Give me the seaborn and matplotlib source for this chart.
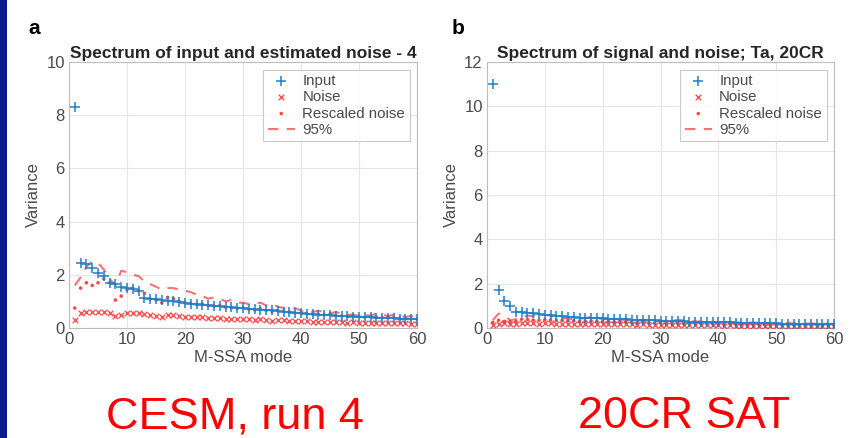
import numpy as np
import pandas as pd
import matplotlib
matplotlib.use("Agg")
import matplotlib.pyplot as plt
import seaborn as sns
from matplotlib.patches import Rectangle

modes = list(range(1, 61))

# Panel a: CESM, run 4
a_input = [8.3, 2.45, 2.4, 2.25, 2.05, 1.95, 1.7, 1.65, 1.55, 1.5,
           1.48, 1.38, 1.12, 1.1, 1.08, 1.05, 1.02, 1.0, 0.97, 0.94,
           0.92, 0.9, 0.88, 0.86, 0.84, 0.82, 0.8, 0.78, 0.76, 0.74,
           0.72, 0.7, 0.69, 0.68, 0.66, 0.64, 0.62, 0.6, 0.58, 0.55,
           0.53, 0.52, 0.5, 0.49, 0.48, 0.46, 0.45, 0.44, 0.43, 0.42,
           0.41, 0.4, 0.39, 0.38, 0.37, 0.36, 0.35, 0.34, 0.33, 0.32]
a_noise = [0.3, 0.55, 0.6, 0.6, 0.62, 0.6, 0.55, 0.45, 0.5, 0.55,
           0.55, 0.55, 0.52, 0.48, 0.45, 0.4, 0.48, 0.47, 0.45, 0.43,
           0.42, 0.4, 0.41, 0.38, 0.37, 0.38, 0.35, 0.34, 0.33, 0.34,
           0.32, 0.31, 0.33, 0.3, 0.28, 0.3, 0.29, 0.27, 0.26, 0.25,
           0.25, 0.24, 0.24, 0.23, 0.24, 0.22, 0.21, 0.2, 0.21, 0.2,
           0.19, 0.2, 0.19, 0.18, 0.19, 0.18, 0.17, 0.17, 0.16, 0.16]
a_rescaled = [0.75, 1.5, 1.7, 1.6, 1.7, 1.85, 1.7, 1.05, 1.2, 1.45,
              1.5, 1.4, 1.3, 1.1, 1.05, 0.95, 1.15, 1.1, 1.0, 0.95,
              0.92, 0.88, 0.9, 0.84, 0.82, 0.84, 0.78, 0.76, 0.74, 0.76,
              0.7, 0.68, 0.72, 0.66, 0.62, 0.65, 0.63, 0.6, 0.57, 0.55,
              0.54, 0.52, 0.52, 0.5, 0.52, 0.47, 0.45, 0.43, 0.45, 0.43,
              0.41, 0.43, 0.41, 0.39, 0.41, 0.39, 0.37, 0.36, 0.34, 0.34]
a_p95 = [1.6, 1.9, 2.3, 2.5, 2.45, 2.2, 1.85, 1.6, 2.15, 2.1,
         2.0, 1.95, 1.75, 1.65, 1.55, 1.45, 1.5, 1.5, 1.45, 1.4,
         1.35, 1.25, 1.2, 1.1, 1.15, 1.1, 1.0, 1.05, 0.95, 0.95,
         0.9, 0.9, 0.95, 0.85, 0.9, 0.8, 0.75, 0.7, 0.75, 0.65,
         0.6, 0.6, 0.65, 0.6, 0.55, 0.6, 0.55, 0.5, 0.5, 0.45,
         0.5, 0.45, 0.55, 0.5, 0.45, 0.5, 0.45, 0.42, 0.45, 0.4]

# Panel b: 20CR SAT
b_input = [11.0, 1.7, 1.2, 1.0, 0.72, 0.7, 0.68, 0.66, 0.64, 0.6,
           0.58, 0.56, 0.54, 0.5, 0.48, 0.47, 0.46, 0.45, 0.44, 0.43,
           0.42, 0.41, 0.4, 0.39, 0.38, 0.37, 0.36, 0.35, 0.34, 0.33,
           0.32, 0.31, 0.3, 0.3, 0.29, 0.28, 0.28, 0.27, 0.26, 0.26,
           0.25, 0.25, 0.24, 0.24, 0.23, 0.23, 0.22, 0.22, 0.21, 0.21,
           0.2, 0.2, 0.2, 0.19, 0.19, 0.18, 0.18, 0.18, 0.17, 0.17]
b_noise = [0.15, 0.2, 0.22, 0.18, 0.2, 0.22, 0.22, 0.21, 0.2, 0.22,
           0.21, 0.2, 0.2, 0.19, 0.2, 0.19, 0.18, 0.19, 0.18, 0.17,
           0.18, 0.17, 0.16, 0.17, 0.16, 0.15, 0.16, 0.15, 0.14, 0.15,
           0.14, 0.15, 0.14, 0.13, 0.14, 0.13, 0.12, 0.13, 0.12, 0.12,
           0.11, 0.12, 0.11, 0.1, 0.11, 0.1, 0.1, 0.1, 0.09, 0.1,
           0.09, 0.09, 0.08, 0.09, 0.08, 0.08, 0.08, 0.07, 0.08, 0.07]
b_rescaled = [0.25, 0.35, 0.3, 0.28, 0.3, 0.4, 0.38, 0.36, 0.35, 0.37,
              0.36, 0.34, 0.34, 0.32, 0.33, 0.31, 0.3, 0.32, 0.3, 0.29,
              0.3, 0.28, 0.27, 0.28, 0.26, 0.25, 0.26, 0.25, 0.24, 0.25,
              0.23, 0.24, 0.23, 0.22, 0.23, 0.21, 0.2, 0.21, 0.2, 0.2,
              0.19, 0.2, 0.18, 0.17, 0.18, 0.17, 0.17, 0.16, 0.15, 0.16,
              0.15, 0.15, 0.14, 0.15, 0.14, 0.13, 0.14, 0.13, 0.13, 0.12]
b_p95 = [0.35, 0.65, 0.55, 0.35, 0.4, 0.5, 0.55, 0.55, 0.6, 0.6,
         0.55, 0.5, 0.45, 0.42, 0.4, 0.42, 0.45, 0.5, 0.45, 0.4,
         0.4, 0.38, 0.36, 0.38, 0.36, 0.34, 0.33, 0.32, 0.32, 0.33,
         0.32, 0.34, 0.36, 0.35, 0.32, 0.3, 0.29, 0.28, 0.28, 0.27,
         0.26, 0.27, 0.26, 0.25, 0.25, 0.24, 0.24, 0.23, 0.23, 0.22,
         0.22, 0.22, 0.21, 0.21, 0.2, 0.2, 0.2, 0.19, 0.19, 0.18]

panels = [
    dict(letter="a", title="Spectrum of input and estimated noise - 4",
         inp=a_input, noise=a_noise, resc=a_rescaled, p95=a_p95,
         ymax=10, caption="CESM, run 4"),
    dict(letter="b", title="Spectrum of signal and noise; Ta, 20CR",
         inp=b_input, noise=b_noise, resc=b_rescaled, p95=b_p95,
         ymax=12, caption="20CR SAT"),
]

sns.set_theme(style="whitegrid")
plt.rcParams['font.family'] = ['Liberation Sans', 'DejaVu Sans']

W, H = 867, 438
fig = plt.figure(figsize=(W / 100, H / 100), dpi=100)
fig.patch.set_facecolor("white")
fig.patches.append(Rectangle((0, 0), 7 / W, 1, transform=fig.transFigure,
                             facecolor="#0b1a8f", edgecolor="none", zorder=0))

blue = "#1f7fc8"
red = (1.0, 0.15, 0.15)
txtc = "#4a4a4a"

ax_boxes = [(69, 417), (487, 834)]
captions_x = [235, 684]
letters_x = [28, 452]
for p, (l, r), cx, lx in zip(panels, ax_boxes, captions_x, letters_x):
    ax = fig.add_axes([l / W, (H - 328) / H, (r - l) / W, (328 - 62) / H])
    df = pd.DataFrame({"mode": modes, "inp": p["inp"], "noise": p["noise"],
                       "resc": p["resc"], "p95": p["p95"]})
    sns.scatterplot(data=df, x="mode", y="inp", ax=ax, marker="+", s=50,
                    color=blue, linewidth=1.1, label="Input", zorder=4)
    sns.scatterplot(data=df, x="mode", y="noise", ax=ax, marker="x", s=16,
                    color=red, alpha=0.8, linewidth=1.0, label="Noise", zorder=3)
    sns.scatterplot(data=df, x="mode", y="resc", ax=ax, marker=".", s=26,
                    color=red, alpha=0.85, edgecolor="none", label="Rescaled noise", zorder=3)
    sns.lineplot(data=df, x="mode", y="p95", ax=ax, color=red, alpha=0.65,
                 linestyle=(0, (5, 4)), linewidth=1.5, label="95%", zorder=2)
    ax.set_xlim(0, 60)
    ax.set_ylim(0, p["ymax"])
    ax.set_xticks(range(0, 61, 10))
    ax.set_yticks(range(0, p["ymax"] + 1, 2))
    ax.grid(True, color="#e6e6e6", linewidth=0.8)
    for s in ax.spines.values():
        s.set_color("#bdbdbd")
        s.set_linewidth(0.8)
    ax.tick_params(axis="both", labelsize=12, colors=txtc, length=0, pad=3)
    ax.set_xlabel("M-SSA mode", fontsize=12, color=txtc, labelpad=2)
    ax.set_ylabel("Variance", fontsize=12, color=txtc, labelpad=4)
    ax.set_title(p["title"], fontsize=12.5, fontweight="bold", color="#262626", pad=3)
    leg = ax.legend(loc="upper right", fontsize=10.8, frameon=True, fancybox=False,
                    borderpad=0.3, labelspacing=0.15, handlelength=1.8,
                    handletextpad=0.5, borderaxespad=0.5)
    leg.get_frame().set_edgecolor("#bdbdbd")
    leg.get_frame().set_linewidth(0.8)
    for t in leg.get_texts():
        t.set_color(txtc)
    fig.text(lx / W, (H - 28) / H, p["letter"], fontsize=15, fontweight="bold",
             ha="left", va="center", color="black")
    fig.text(cx / W, (H - 428) / H, p["caption"], fontsize=32.5, color="#ff0000",
             ha="center", va="baseline")

fig.savefig("out.png", dpi=100)
